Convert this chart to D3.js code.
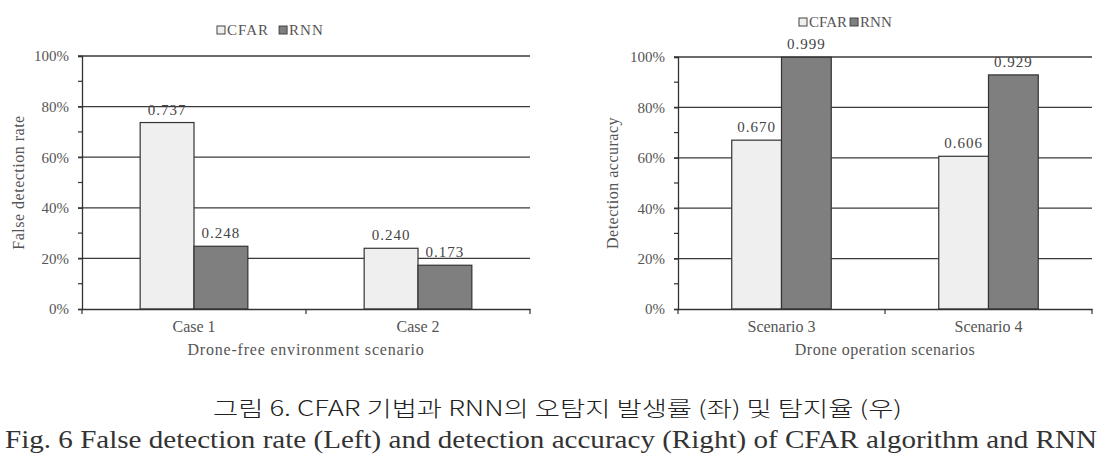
<!DOCTYPE html>
<html>
<head>
<meta charset="utf-8">
<script src="https://cdn.jsdelivr.net/npm/d3@7"></script>
<style>
  body { margin: 0; background: #fff; }
  svg { display: block; }
</style>
</head>
<body>
<div id="vis"></div>
<script>
// chart data
const seriesNames = ["CFAR", "RNN"];
const leftCategories = ["Case 1", "Case 2"];
const leftCFAR = [0.737, 0.240];
const leftRNN = [0.248, 0.173];
const rightCategories = ["Scenario 3", "Scenario 4"];
const rightCFAR = [0.670, 0.606];
const rightRNN = [0.999, 0.929];
const majorTicks = [0, 0.2, 0.4, 0.6, 0.8, 1.0];
const minorTicks = [0.1, 0.3, 0.5, 0.7, 0.9];

const FRAME_WIDTH = 1113;
const FRAME_HEIGHT = 461;
const COLORS = {CFAR: "#efefef", RNN: "#7f7f7f"};
const TEXT_COLOR = "#555";
const FONT = "'Liberation Serif', 'Times New Roman', Times, serif";

const FRAME = d3.select("#vis")
  .append("svg")
    .attr("width", FRAME_WIDTH)
    .attr("height", FRAME_HEIGHT);

function drawChart(opts) {
  const x0 = opts.left, x1 = opts.right, y0 = opts.top, y1 = opts.bottom;

  const rows = opts.categories.map((c, i) => ({
    cat: c, CFAR: opts.cfar[i], RNN: opts.rnn[i]
  }));

  const X = d3.scaleBand().domain(opts.categories).range([x0, x1]);
  const XS = d3.scaleBand().domain(seriesNames)
    .range([0, X.bandwidth()]).paddingOuter(1.08);
  const Y = d3.scaleLinear().domain([0, 1]).range([y1, y0]);

  const g = FRAME.append("g");

  // gridlines
  g.selectAll(".grid")
    .data(majorTicks.slice(1))
    .enter().append("line")
      .attr("x1", x0 - 4).attr("x2", x1)
      .attr("y1", d => Y(d)).attr("y2", d => Y(d))
      .attr("stroke", "#3a3a3a").attr("stroke-width", 1.3);

  // minor ticks
  g.selectAll(".minor")
    .data(minorTicks)
    .enter().append("line")
      .attr("x1", x0 - 4).attr("x2", x0)
      .attr("y1", d => Y(d)).attr("y2", d => Y(d))
      .attr("stroke", "#333").attr("stroke-width", 1.2);

  // y axis
  const yAxis = g.append("g")
    .attr("transform", "translate(" + x0 + ",0)")
    .call(d3.axisLeft(Y).tickValues(majorTicks)
      .tickFormat(d3.format(".0%")).tickSize(4).tickPadding(9));
  yAxis.select(".domain").attr("stroke", "#333").attr("stroke-width", 1.3);
  yAxis.selectAll(".tick line").attr("stroke", "#333").attr("stroke-width", 1.2);
  yAxis.selectAll("text")
    .attr("font-family", FONT).attr("font-size", 15)
    .attr("fill", TEXT_COLOR);

  // bars
  const groups = g.selectAll(".grp")
    .data(rows)
    .enter().append("g")
      .attr("transform", d => "translate(" + X(d.cat) + ",0)");

  groups.selectAll("rect")
    .data(d => seriesNames.map(s => ({s: s, v: d[s]})))
    .enter().append("rect")
      .attr("x", d => XS(d.s))
      .attr("width", XS.bandwidth())
      .attr("y", d => Y(d.v))
      .attr("height", d => y1 - Y(d.v))
      .attr("fill", d => COLORS[d.s])
      .attr("stroke", "#333").attr("stroke-width", 1.2);

  groups.selectAll(".val")
    .data(d => seriesNames.map(s => ({s: s, v: d[s]})))
    .enter().append("text")
      .attr("x", d => XS(d.s) + XS.bandwidth() / 2)
      .attr("y", d => Y(d.v) - 8)
      .attr("text-anchor", "middle")
      .attr("font-family", FONT).attr("font-size", 15)
      .attr("letter-spacing", 1)
      .attr("fill", "#444")
      .text(d => d.v.toFixed(3));

  // x axis
  const xAxis = g.append("g")
    .attr("transform", "translate(0," + y1 + ")")
    .call(d3.axisBottom(X).tickSize(0).tickPadding(12));
  xAxis.select(".domain").attr("stroke", "#333").attr("stroke-width", 1.3);
  xAxis.selectAll("text")
    .attr("font-family", FONT).attr("font-size", 16)
    .attr("fill", TEXT_COLOR);
  // category boundary ticks
  g.selectAll(".xtick")
    .data(d3.range(opts.categories.length + 1))
    .enter().append("line")
      .attr("x1", i => x0 + i * X.step()).attr("x2", i => x0 + i * X.step())
      .attr("y1", y1).attr("y2", y1 + 5)
      .attr("stroke", "#333").attr("stroke-width", 1.2);

  // axis titles
  g.append("text")
    .attr("x", (x0 + x1) / 2).attr("y", y1 + 46)
    .attr("text-anchor", "middle")
    .attr("font-family", FONT).attr("font-size", 16)
    .attr("letter-spacing", opts.xTitleSpacing)
    .attr("fill", TEXT_COLOR)
    .text(opts.xTitle);

  g.append("text")
    .attr("transform", "translate(" + opts.yTitleX + "," + (y0 + y1) / 2 + ") rotate(-90)")
    .attr("text-anchor", "middle")
    .attr("font-family", FONT).attr("font-size", 16)
    .attr("letter-spacing", 0.5)
    .attr("fill", TEXT_COLOR)
    .text(opts.yTitle);

  // legend
  const leg = g.append("g")
    .attr("transform", "translate(" + opts.legendX + "," + opts.legendY + ")");
  let lx = 0;
  seriesNames.forEach(s => {
    leg.append("rect")
      .attr("x", lx).attr("y", -9).attr("width", 8).attr("height", 8)
      .attr("fill", COLORS[s]).attr("stroke", "#444").attr("stroke-width", 1);
    const t = leg.append("text")
      .attr("x", lx + 10).attr("y", 0)
      .attr("font-family", FONT).attr("font-size", 15)
      .attr("letter-spacing", opts.legendSpacing)
      .attr("fill", TEXT_COLOR)
      .text(s);
    lx += 10 + t.node().getComputedTextLength() + opts.legendGap;
  });
}

drawChart({
  categories: leftCategories, cfar: leftCFAR, rnn: leftRNN,
  left: 82, right: 530, top: 56, bottom: 309,
  xTitle: "Drone-free environment scenario", xTitleSpacing: 0.8,
  yTitle: "False detection rate", yTitleX: 24,
  legendX: 217, legendY: 35, legendGap: 10, legendSpacing: 1
});

drawChart({
  categories: rightCategories, cfar: rightCFAR, rnn: rightRNN,
  left: 678, right: 1092, top: 57, bottom: 309,
  xTitle: "Drone operation scenarios", xTitleSpacing: 0.5,
  yTitle: "Detection accuracy", yTitleX: 618,
  legendX: 799, legendY: 27, legendGap: 3, legendSpacing: 0
});

// captions
FRAME.append("text")
  .attr("x", 213).attr("y", 416)
  .attr("textLength", 689).attr("lengthAdjust", "spacingAndGlyphs")
  .attr("font-family", "'Noto Sans CJK KR', sans-serif")
  .attr("font-size", 21).attr("font-weight", 300).attr("fill", "#222")
  .text("그림 6. CFAR 기법과 RNN의 오탐지 발생률 (좌) 및 탐지율 (우)");

FRAME.append("text")
  .attr("x", 5).attr("y", 448)
  .attr("textLength", 1092).attr("lengthAdjust", "spacingAndGlyphs")
  .attr("font-family", FONT)
  .attr("font-size", 25).attr("fill", "#333")
  .text("Fig. 6 False detection rate (Left) and detection accuracy (Right) of CFAR algorithm and RNN");
</script>
</body>
</html>
